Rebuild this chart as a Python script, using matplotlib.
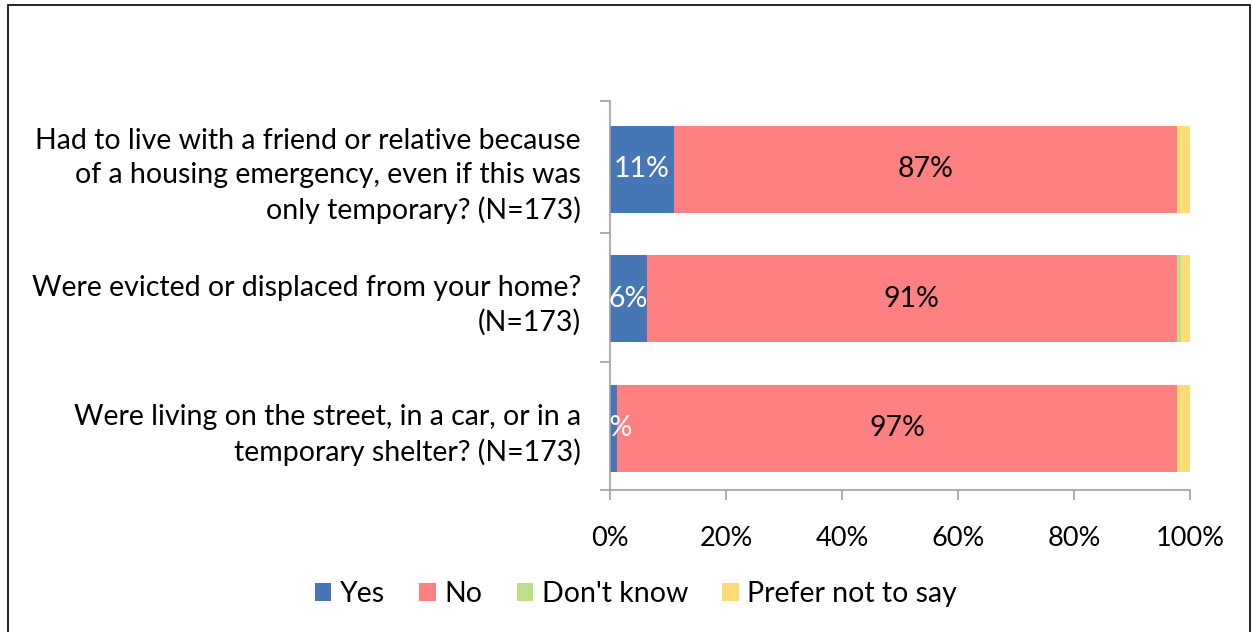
import matplotlib
matplotlib.use('Agg')
import matplotlib.pyplot as plt
from matplotlib.patches import Rectangle

# --- Data ---
questions = [
    'Had to live with a friend or relative because\nof a housing emergency, even if this was\nonly temporary? (N=173)',
    'Were evicted or displaced from your home?\n(N=173)',
    'Were living on the street, in a car, or in a\ntemporary shelter? (N=173)',
]
series_names = ['Yes', 'No', "Don't know", 'Prefer not to say']
yes = [11.0, 6.4, 1.2]
no = [86.7, 91.3, 96.6]
dont_know = [0.0, 0.7, 0.0]
prefer_not = [2.3, 1.6, 2.2]
colors = ['#4676b6', '#ff8080', '#bedf8a', '#ffdb78']
xticks = [0, 20, 40, 60, 80, 100]

plt.rcParams['font.family'] = ['Lato', 'DejaVu Sans']
FS = 20.5

fig = plt.figure(figsize=(12.53, 6.32), dpi=100)
ax = fig.add_axes([610 / 1253, 1 - 490 / 632, 580 / 1253, 389 / 632])

# outer frame of the chart area
fig.patches.append(Rectangle((8 / 1253, -0.1), 1242 / 1253, 1.1 - 5 / 632,
                             transform=fig.transFigure, fill=False,
                             edgecolor='black', linewidth=1.2))

ypos = list(range(len(questions)))
left = [0.0] * len(questions)
all_series = [yes, no, dont_know, prefer_not]
for name, vals, col in zip(series_names, all_series, colors):
    bars = ax.barh(ypos, vals, left=left, height=0.67, color=col, label=name)
    if name == 'Yes':
        ax.bar_label(bars, labels=[f'{v:.0f}%' for v in vals], label_type='center',
                     color='white', fontsize=FS)
    elif name == 'No':
        ax.bar_label(bars, labels=[f'{v:.0f}%' for v in vals], label_type='center',
                     color='black', fontsize=FS)
    left = [a + b for a, b in zip(left, vals)]

ax.set_xlim(0, 100)
ax.set_ylim(2.475, -0.525)
ax.set_xticks(xticks)
ax.set_xticklabels([f'{t}%' for t in xticks], fontsize=19.5)
ax.set_yticks(ypos)
ax.set_yticklabels(questions, fontsize=FS, linespacing=1.37)
ax.set_yticks([-0.525, 0.49, 1.49, 2.475], minor=True)
ax.tick_params(axis='y', which='major', length=0, pad=21)
ax.tick_params(axis='y', which='minor', length=7, color='#a0a0a0', width=1.2)
ax.tick_params(axis='x', length=7, color='#a0a0a0', width=1.2, pad=19)

for s in ['top', 'right']:
    ax.spines[s].set_visible(False)
for s in ['left', 'bottom']:
    ax.spines[s].set_color('#a0a0a0')
    ax.spines[s].set_linewidth(1.2)

ax.legend(loc='center', bbox_to_anchor=(636 / 1253, 1 - 594 / 632),
          bbox_transform=fig.transFigure, ncol=4, frameon=False, fontsize=FS,
          handlelength=0.58, handleheight=0.58, handletextpad=0.3, columnspacing=1.2)

fig.savefig('out.png', dpi=100)
